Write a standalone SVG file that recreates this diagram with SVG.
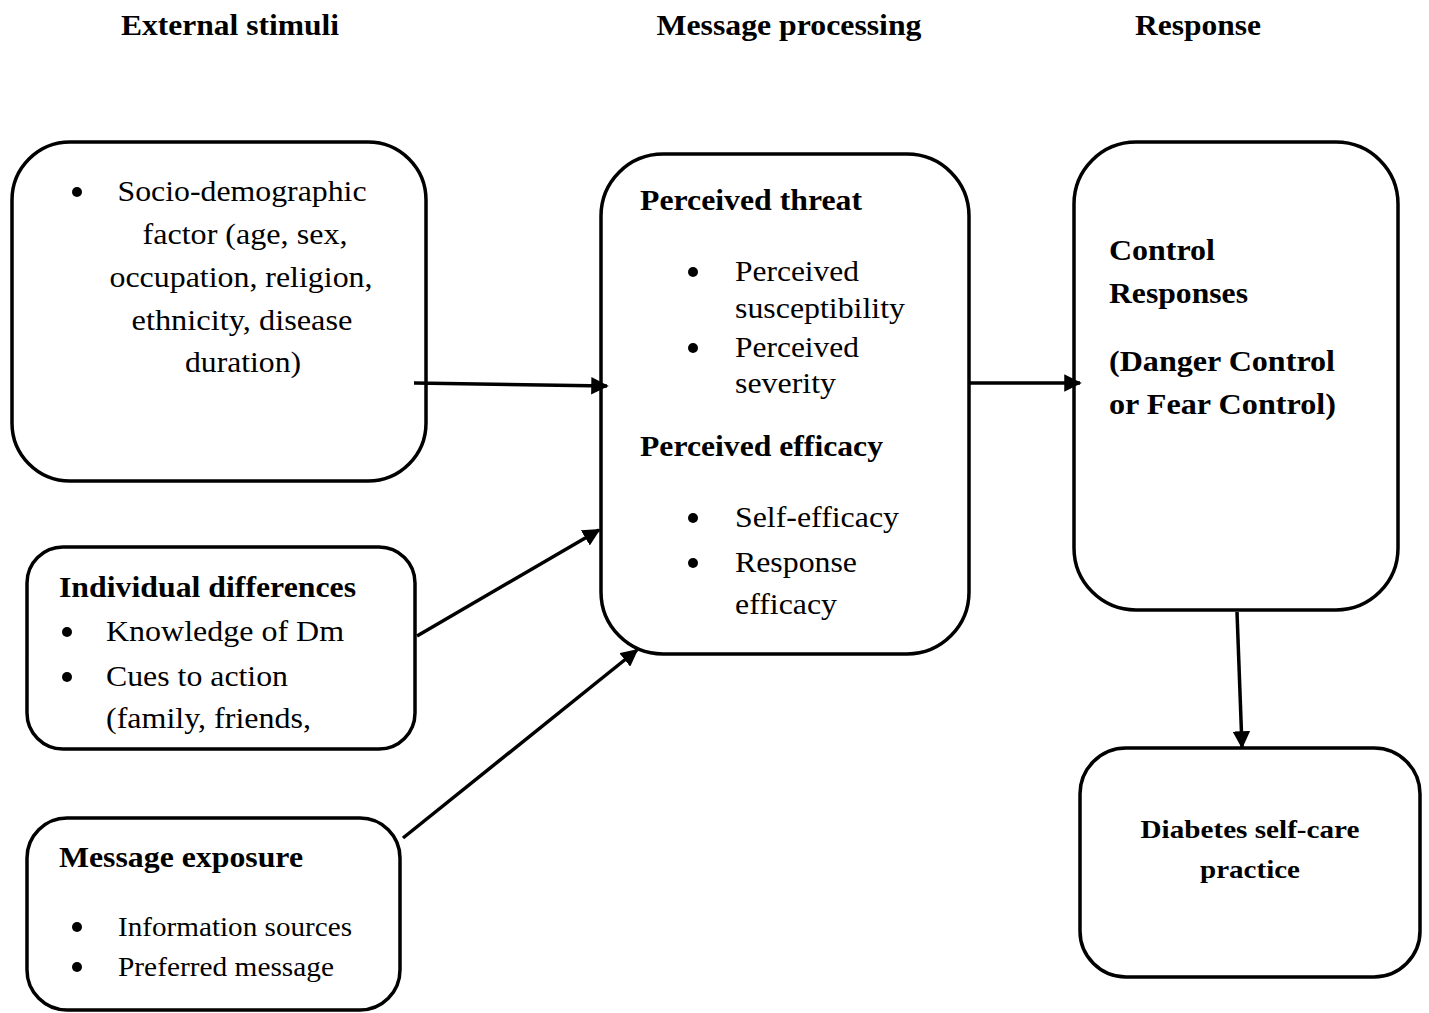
<svg xmlns="http://www.w3.org/2000/svg" width="1429" height="1013" viewBox="0 0 1429 1013">
<style>
.box{fill:#fff;stroke:#000;stroke-width:3.5}
text{font-family:"Liberation Serif","Times New Roman",serif;fill:#000}
.h{font-size:29px;font-weight:bold}
.t{font-size:29px}
.s{font-size:27px}
.c{text-anchor:middle}
.conn line{stroke:#000;stroke-width:3.5;marker-end:url(#ah)}
</style>
<defs>
<marker id="ah" viewBox="0 0 10 10" refX="9" refY="5" markerWidth="5" markerHeight="5" orient="auto" markerUnits="strokeWidth">
<path d="M0,0 L10,5 L0,10 z" fill="#000"/>
</marker>
</defs>
<rect width="1429" height="1013" fill="#fff"/>
<g id="headers">
<text class="h c" x="230" y="35" textLength="218" lengthAdjust="spacingAndGlyphs">External stimuli</text>
<text class="h c" x="789" y="35" textLength="265" lengthAdjust="spacingAndGlyphs">Message processing</text>
<text class="h c" x="1198" y="35" textLength="126" lengthAdjust="spacingAndGlyphs">Response</text>
</g>
<g id="sociodemographic">
<rect class="box" x="12" y="142" width="414" height="339" rx="58"/>
<circle cx="77" cy="192" r="5"/>
<text class="t c" x="242" y="201" textLength="249" lengthAdjust="spacingAndGlyphs">Socio-demographic</text>
<text class="t c" x="245" y="244" textLength="205" lengthAdjust="spacingAndGlyphs">factor (age, sex,</text>
<text class="t c" x="241" y="287" textLength="263" lengthAdjust="spacingAndGlyphs">occupation, religion,</text>
<text class="t c" x="242" y="330" textLength="221" lengthAdjust="spacingAndGlyphs">ethnicity, disease</text>
<text class="t c" x="243" y="372" textLength="116" lengthAdjust="spacingAndGlyphs">duration)</text>
</g>
<g id="individual">
<rect class="box" x="27" y="547" width="388" height="202" rx="36"/>
<text class="h" x="59" y="597" textLength="297" lengthAdjust="spacingAndGlyphs">Individual differences</text>
<circle cx="67" cy="632" r="5"/>
<text class="t" x="106" y="641" textLength="238" lengthAdjust="spacingAndGlyphs">Knowledge of Dm</text>
<circle cx="67" cy="677" r="5"/>
<text class="t" x="106" y="686" textLength="182" lengthAdjust="spacingAndGlyphs">Cues to action</text>
<text class="t" x="106" y="728" textLength="205" lengthAdjust="spacingAndGlyphs">(family, friends,</text>
</g>
<g id="exposure">
<rect class="box" x="27" y="818" width="373" height="192" rx="40"/>
<text class="h" x="59" y="867" textLength="244" lengthAdjust="spacingAndGlyphs">Message exposure</text>
<circle cx="77" cy="927" r="5"/>
<text class="s" x="118" y="936" textLength="234" lengthAdjust="spacingAndGlyphs">Information sources</text>
<circle cx="77" cy="967" r="5"/>
<text class="s" x="118" y="976" textLength="216" lengthAdjust="spacingAndGlyphs">Preferred message</text>
</g>
<g id="processing">
<rect class="box" x="601" y="154" width="368" height="500" rx="62"/>
<text class="h" x="640" y="210" textLength="222" lengthAdjust="spacingAndGlyphs">Perceived threat</text>
<circle cx="693" cy="272" r="5"/>
<text class="t" x="735" y="281" textLength="124" lengthAdjust="spacingAndGlyphs">Perceived</text>
<text class="t" x="735" y="318" textLength="170" lengthAdjust="spacingAndGlyphs">susceptibility</text>
<circle cx="693" cy="348" r="5"/>
<text class="t" x="735" y="357" textLength="124" lengthAdjust="spacingAndGlyphs">Perceived</text>
<text class="t" x="735" y="393" textLength="101" lengthAdjust="spacingAndGlyphs">severity</text>
<text class="h" x="640" y="456" textLength="243" lengthAdjust="spacingAndGlyphs">Perceived efficacy</text>
<circle cx="693" cy="518" r="5"/>
<text class="t" x="735" y="527" textLength="164" lengthAdjust="spacingAndGlyphs">Self-efficacy</text>
<circle cx="693" cy="563" r="5"/>
<text class="t" x="735" y="572" textLength="122" lengthAdjust="spacingAndGlyphs">Response</text>
<text class="t" x="735" y="614" textLength="102" lengthAdjust="spacingAndGlyphs">efficacy</text>
</g>
<g id="response">
<rect class="box" x="1074" y="142" width="324" height="468" rx="62"/>
<text class="h" x="1109" y="260" textLength="106" lengthAdjust="spacingAndGlyphs">Control</text>
<text class="h" x="1109" y="303" textLength="139" lengthAdjust="spacingAndGlyphs">Responses</text>
<text class="h" x="1109" y="371" textLength="226" lengthAdjust="spacingAndGlyphs">(Danger Control</text>
<text class="h" x="1109" y="414" textLength="227" lengthAdjust="spacingAndGlyphs">or Fear Control)</text>
</g>
<g id="selfcare">
<rect class="box" x="1080" y="748" width="340" height="229" rx="46"/>
<text class="h c" x="1250" y="838" style="font-size:26px" textLength="219" lengthAdjust="spacingAndGlyphs">Diabetes self-care</text>
<text class="h c" x="1250" y="878" style="font-size:26px" textLength="100" lengthAdjust="spacingAndGlyphs">practice</text>
</g>
<g class="conn" id="connectors">
<line x1="414" y1="383" x2="607" y2="386"/>
<line x1="969" y1="383" x2="1080" y2="383"/>
<line x1="417" y1="636" x2="599" y2="530"/>
<line x1="403" y1="838" x2="637" y2="650"/>
<line x1="1237" y1="612" x2="1242" y2="747"/>
</g>
</svg>
